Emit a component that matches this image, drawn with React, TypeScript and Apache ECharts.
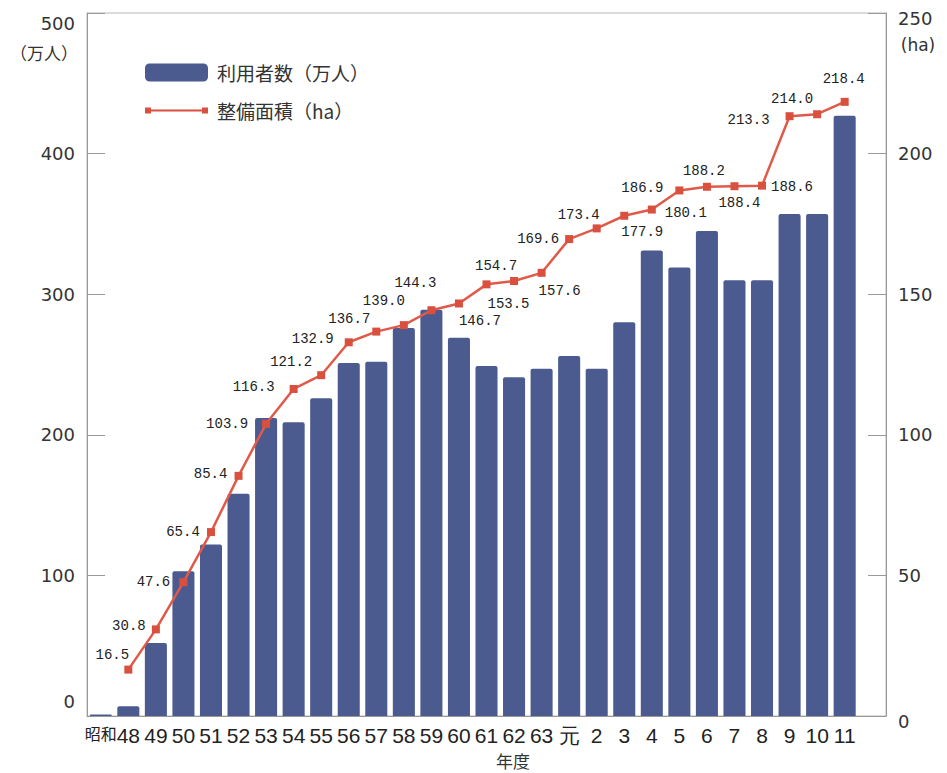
import React, { useEffect, useRef } from "react";
import * as echarts from "echarts";

const categories = ["昭和", "48", "49", "50", "51", "52", "53", "54", "55", "56", "57", "58", "59", "60", "61", "62", "63", "元", "2", "3", "4", "5", "6", "7", "8", "9", "10", "11"];
const users = [1, 7, 52, 103, 122, 158, 212, 209, 226, 251, 252, 276, 289, 269, 249, 241, 247, 256, 247, 280, 331, 319, 345, 310, 310, 357, 357, 427];
const area = [null, 16.5, 30.8, 47.6, 65.4, 85.4, 103.9, 116.3, 121.2, 132.9, 136.7, 139.0, 144.3, 146.7, 153.5, 154.7, 157.6, 169.6, 173.4, 177.9, 180.1, 186.9, 188.2, 188.4, 188.6, 213.3, 214.0, 218.4];
const usersName = "利用者数（万人）";
const areaName = "整備面積（ha）";

// label placement (layout only)
const labelOffsets: (number[] | null)[] = [null, [-16, -15], [-27, -3], [-30, 0], [-28, 0], [-28, -2], [-39, 0], [-40, -2], [-30, -13], [-36, -3], [-27, -13], [-20, -24], [-16, -27], [21, 18], [22, 20], [-18, -15], [18, 18], [-31, 0], [-18, -13], [18, 16], [34, 3], [-37, -2], [-3, -16], [5, 17], [30, 1], [-41, 4], [-25, -15], [-1, -23]];

export default function App() {
  const ref = useRef<HTMLDivElement>(null);
  useEffect(() => {
    const chart = echarts.init(ref.current!, null, { renderer: "svg" });
    const axisFont = "DejaVu Sans";
    const lblStyle = { fontSize: 18, color: "#333", fontFamily: axisFont };
    const xLbl = { fontSize: 21, color: "#222", fontFamily: "Liberation Sans" };
    chart.setOption({
      animation: false,
      backgroundColor: "#fff",
      grid: { left: 87, top: 13, right: 61, bottom: 57, show: true, borderColor: "#b8b8b8", borderWidth: 1 },
      legend: {
        orient: "vertical",
        left: 140,
        top: 58,
        itemWidth: 63,
        itemHeight: 18,
        itemGap: 19,
        data: [
          { name: usersName, icon: "roundRect" },
          { name: areaName, icon: "path://M0,0M63,18M0,6h6v6h-6zM6,8h51v2h-51zM57,6h6v6h-6z" },
        ],
        textStyle: { fontSize: 19, color: "#333", fontFamily: "Noto Sans CJK JP", padding: [0, 0, 0, 4] },
      },
      xAxis: {
        type: "category",
        data: [...categories, ""],
        axisLine: { lineStyle: { color: "#999" } },
        axisTick: { show: false },
        axisLabel: {
          interval: 0,
          margin: 9,
          ...xLbl,
          formatter: (v: string) => (v === "昭和" ? "{s|昭和}" : v),
          rich: { s: { ...xLbl, fontSize: 16, fontFamily: "Noto Sans CJK JP" } },
        },
      },
      yAxis: [
        {
          type: "value",
          min: 0,
          max: 500,
          interval: 100,
          position: "left",
          splitLine: { show: false },
          axisLine: { show: true, lineStyle: { color: "#999" } },
          axisTick: { show: true, inside: true, length: 18, lineStyle: { color: "#999" } },
          axisLabel: {
            margin: 12,
            ...lblStyle,
            formatter: (v: number) => (v === 0 ? "{z|0}" : v === 500 ? "{t|500}" : String(v)),
            rich: {
              z: { ...lblStyle, padding: [0, 0, 30, 0] },
              t: { ...lblStyle, padding: [20, 0, 0, 0] },
            },
          },
        },
        {
          type: "value",
          min: 0,
          max: 250,
          interval: 50,
          position: "right",
          splitLine: { show: false },
          axisLine: { show: true, lineStyle: { color: "#999" } },
          axisTick: { show: true, inside: true, length: 18, lineStyle: { color: "#999" } },
          axisLabel: {
            margin: 12,
            ...lblStyle,
            formatter: (v: number) => (v === 250 ? "{t|250}" : v === 0 ? "{b|0}" : String(v)),
            rich: {
              t: { ...lblStyle, padding: [10, 0, 0, 0] },
              b: { ...lblStyle, padding: [10, 0, 0, 0] },
            },
          },
        },
      ],
      series: [
        {
          type: "bar",
          name: usersName,
          data: users,
          barWidth: "80%",
          itemStyle: { color: "#4b5b8f", borderRadius: [2, 2, 0, 0] },
        },
        {
          type: "line",
          name: areaName,
          yAxisIndex: 1,
          data: area.map((v, i) => (v == null ? "-" : { value: v, label: { offset: labelOffsets[i] } })),
          symbol: "rect",
          symbolSize: 8,
          lineStyle: { color: "#e05a4a", width: 2.5 },
          itemStyle: { color: "#d9503f" },
          label: {
            show: true,
            position: "inside",
            formatter: (p: any) => Number(p.value).toFixed(1),
            fontFamily: "Liberation Mono",
            fontSize: 14,
            color: "#222",
          },
        },
      ],
      graphic: [
        { type: "text", x: 44, y: 52, style: { text: "（万人）", fontSize: 17, fontFamily: "Noto Sans CJK JP", fill: "#333", align: "center", verticalAlign: "middle" } },
        { type: "text", x: 918, y: 45, style: { text: "(ha)", fontSize: 17, fontFamily: axisFont, fill: "#333", align: "center", verticalAlign: "middle" } },
        { type: "text", x: 513, y: 760, style: { text: "年度", fontSize: 17, fontFamily: "Noto Sans CJK JP", fill: "#333", align: "center", verticalAlign: "middle" } },
      ],
    });
    return () => chart.dispose();
  }, []);
  return <div ref={ref} style={{ position: "absolute", left: 0, top: 0, width: 947, height: 773 }} />;
}
